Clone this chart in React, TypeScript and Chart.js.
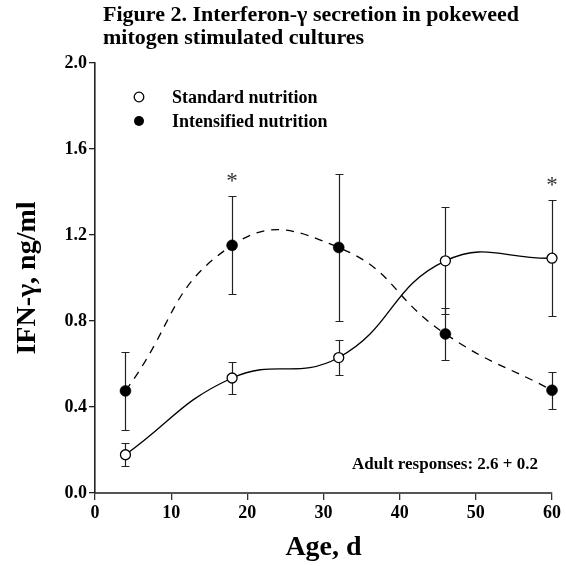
import React, { useEffect, useRef } from "react";
import { Chart, registerables } from "chart.js";

Chart.register(...registerables);

const ages = [4, 18, 32, 46, 60];
const standardMean = [0.178, 0.535, 0.63, 1.08, 1.092];
const standardErr = [0.053, 0.076, 0.083, 0.248, 0.27];
const intensifiedMean = [0.475, 1.152, 1.142, 0.74, 0.478];
const intensifiedErr = [0.183, 0.228, 0.34, 0.12, 0.086];
const significantAges = [18, 60];
const xTicks = [0, 10, 20, 30, 40, 50, 60];
const yTicks = [0, 0.4, 0.8, 1.2, 1.6, 2.0];
const seriesLabels = ["Standard nutrition", "Intensified nutrition"];
const titleLines = ["Figure 2. Interferon-\u03b3 secretion in pokeweed", "mitogen stimulated cultures"];
const annotationText = "Adult responses: 2.6 + 0.2";
const xTitle = "Age, d";
const yTitle = "IFN-\u03b3, ng/ml";

const FAMILY = "'Liberation Serif', 'Times New Roman', serif";

const overlay = {
  id: "overlay",
  beforeDatasetsDraw(chart: any) {
    const { ctx, scales } = chart;
    const x = scales.x;
    const y = scales.y;
    ctx.save();
    ctx.strokeStyle = "#222";
    ctx.lineWidth = 1.2;
    const drawBars = (means: number[], errs: number[]) => {
      means.forEach((m, i) => {
        const px = Math.round(x.getPixelForValue(ages[i])) + 0.5;
        const top = Math.round(y.getPixelForValue(m + errs[i])) + 0.5;
        const bot = Math.round(y.getPixelForValue(m - errs[i])) + 0.5;
        ctx.beginPath();
        ctx.moveTo(px, top);
        ctx.lineTo(px, bot);
        ctx.moveTo(px - 4, top);
        ctx.lineTo(px + 4, top);
        ctx.moveTo(px - 4, bot);
        ctx.lineTo(px + 4, bot);
        ctx.stroke();
      });
    };
    drawBars(standardMean, standardErr);
    drawBars(intensifiedMean, intensifiedErr);
    ctx.restore();
  },
  afterDraw(chart: any) {
    const { ctx, scales, chartArea } = chart;
    const x = scales.x;
    const y = scales.y;
    ctx.save();
    // title
    ctx.fillStyle = "#000";
    ctx.textAlign = "left";
    ctx.textBaseline = "alphabetic";
    ctx.font = `bold 22px ${FAMILY}`;
    ctx.fillText(titleLines[0], 103, 21);
    ctx.fillText(titleLines[1], 103, 44);

    // legend
    const lx = chartArea.left + 44;
    const rows = [chartArea.top + 34, chartArea.top + 58];
    ctx.lineWidth = 1.3;
    ctx.strokeStyle = "#000";
    ctx.beginPath();
    ctx.arc(lx, rows[0], 4.8, 0, Math.PI * 2);
    ctx.fillStyle = "#fff";
    ctx.fill();
    ctx.stroke();
    ctx.beginPath();
    ctx.arc(lx, rows[1], 5, 0, Math.PI * 2);
    ctx.fillStyle = "#000";
    ctx.fill();
    ctx.font = `bold 18px ${FAMILY}`;
    ctx.textBaseline = "middle";
    ctx.fillText(seriesLabels[0], lx + 33, rows[0] + 1);
    ctx.fillText(seriesLabels[1], lx + 33, rows[1] + 1);

    // annotation
    ctx.font = `bold 17px ${FAMILY}`;
    ctx.textAlign = "right";
    ctx.fillText(annotationText, chartArea.right - 14, chartArea.bottom - 28);

    // asterisks
    ctx.font = `23px ${FAMILY}`;
    ctx.textAlign = "center";
    ctx.fillStyle = "#333";
    significantAges.forEach((a) => {
      const i = ages.indexOf(a);
      const topVal = Math.max(standardMean[i] + standardErr[i], intensifiedMean[i] + intensifiedErr[i]);
      const py = y.getPixelForValue(topVal) - 14;
      ctx.fillText("*", x.getPixelForValue(a), py);
    });
    ctx.restore();
  },
};

export default function App() {
  const ref = useRef<HTMLCanvasElement | null>(null);
  useEffect(() => {
    document.body.style.margin = "0";
    const canvas = ref.current;
    if (!canvas) return;
    const tickFont = { family: FAMILY, size: 18, weight: "bold" as const };
    const chart = new Chart(canvas, {
      type: "scatter",
      data: {
        datasets: [
          {
            label: seriesLabels[0],
            data: ages.map((a, i) => ({ x: a, y: standardMean[i] })),
            showLine: true,
            tension: 0.45,
            borderColor: "#000",
            borderWidth: 1.3,
            pointRadius: 5,
            pointBackgroundColor: "#fff",
            pointBorderColor: "#000",
            pointBorderWidth: 1.3,
            clip: false,
            order: 1,
          },
          {
            label: seriesLabels[1],
            data: ages.map((a, i) => ({ x: a, y: intensifiedMean[i] })),
            showLine: true,
            tension: 0.48,
            borderColor: "#000",
            borderWidth: 1.3,
            borderDash: [8, 7],
            pointRadius: 5.5,
            pointBackgroundColor: "#000",
            pointBorderColor: "#000",
            pointBorderWidth: 0.5,
            clip: false,
            order: 2,
          },
        ],
      },
      options: {
        responsive: false,
        animation: false,
        events: [],
        layout: { padding: { top: 63, right: 14, left: 0, bottom: 0 } },
        plugins: {
          legend: { display: false },
          tooltip: { enabled: false },
          title: { display: false },
        },
        scales: {
          x: {
            type: "linear",
            min: 0,
            max: 60,
            afterBuildTicks: (s: any) => {
              s.ticks = xTicks.map((v) => ({ value: v }));
            },
            afterFit: (s: any) => {
              s.height = 73;
            },
            grid: { display: true, drawOnChartArea: false, drawTicks: true, tickLength: 7, color: "#333", lineWidth: 1.3 },
            border: { display: true, color: "#555", width: 2 },
            ticks: { font: tickFont, color: "#000", padding: 3, callback: (v: any) => String(v) },
            title: {
              display: true,
              text: xTitle,
              color: "#000",
              font: { family: FAMILY, size: 28, weight: "bold" },
              padding: { top: 0, bottom: 1 },
            },
          },
          y: {
            type: "linear",
            min: 0,
            max: 2,
            afterBuildTicks: (s: any) => {
              s.ticks = yTicks.map((v) => ({ value: v }));
            },
            afterFit: (s: any) => {
              s.width = 95;
            },
            grid: { display: true, drawOnChartArea: false, drawTicks: true, tickLength: 6, color: "#222", lineWidth: 1.3 },
            border: { display: true, color: "#222", width: 1.6 },
            ticks: { font: tickFont, color: "#000", padding: 2, callback: (v: any) => Number(v).toFixed(1) },
            title: {
              display: true,
              text: yTitle,
              color: "#000",
              font: { family: FAMILY, size: 28, weight: "bold" },
              padding: { top: 11, bottom: 0 },
            },
          },
        },
      },
      plugins: [overlay],
    });
    return () => chart.destroy();
  }, []);
  return (
    <div style={{ width: 566, height: 566 }}>
      <canvas ref={ref} width={566} height={566} style={{ display: "block" }} />
    </div>
  );
}
